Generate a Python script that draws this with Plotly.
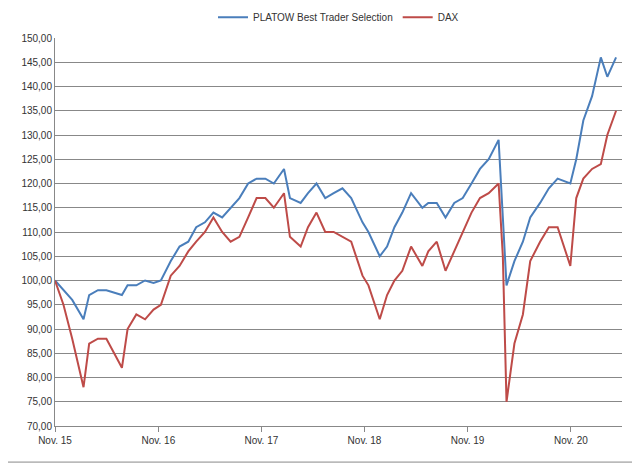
import plotly.graph_objects as go

dates = ["2015-11-01","2015-12-01","2016-01-01","2016-02-10","2016-03-01","2016-04-01","2016-05-01","2016-06-25","2016-07-15","2016-08-15","2016-09-15","2016-10-15","2016-11-10","2016-12-15","2017-01-15","2017-02-15","2017-03-15","2017-04-15","2017-05-15","2017-06-15","2017-07-15","2017-08-15","2017-09-15","2017-10-15","2017-11-15","2017-12-15","2018-01-20","2018-02-10","2018-03-20","2018-04-15","2018-05-15","2018-06-15","2018-07-15","2018-08-15","2018-09-15","2018-10-25","2018-11-15","2018-12-25","2019-01-20","2019-02-15","2019-03-15","2019-04-15","2019-05-25","2019-06-15","2019-07-15","2019-08-15","2019-09-15","2019-10-15","2019-11-15","2019-12-15","2020-01-15","2020-02-19","2020-03-05","2020-03-18","2020-04-15","2020-05-15","2020-06-10","2020-07-15","2020-08-15","2020-09-15","2020-10-30","2020-11-20","2020-12-15","2021-01-15","2021-02-15","2021-03-10","2021-04-10"]
platow = [100,98,96,92,97,98,98,97,99,99,100,99.5,100,104,107,108,111,112,114,113,115,117,120,121,121,120,123,117,116,118,120,117,118,119,117,112,110,105,107,111,114,118,115,116,116,113,116,117,120,123,125,129,113,99,104,108,113,116,119,121,120,125,133,138,146,142,146]
dax = [100,95,88,78,87,88,88,82,90,93,92,94,95,101,103,106,108,110,113,110,108,109,113,117,117,115,118,109,107,111,114,110,110,109,108,101,99,92,97,100,102,107,103,106,108,102,106,110,114,117,118,120,105,75,87,93,104,108,111,111,103,117,121,123,124,130,135]

fig = go.Figure()
fig.add_trace(go.Scatter(x=dates, y=platow, mode="lines", name="PLATOW Best Trader Selection", line=dict(color="#4A7EBB", width=2)))
fig.add_trace(go.Scatter(x=dates, y=dax, mode="lines", name="DAX", line=dict(color="#BE4B48", width=2)))
fig.update_layout(
    width=640, height=464, paper_bgcolor="white", plot_bgcolor="white",
    margin=dict(l=47, r=26, t=30, b=46, autoexpand=False),
    font=dict(family="Liberation Sans, Arial", size=10, color="#333"),
    legend=dict(orientation="h", x=0.5, xanchor="center", y=0.98, yref="container", yanchor="middle", font=dict(size=10)),
    separators=",.",
    shapes=[dict(type="rect", xref="paper", yref="paper", x0=-0.095, x1=1.028, y0=-0.093, y1=1.095,
                 line=dict(color="#888", width=1))],
)
fig.update_xaxes(range=["2015-11-01","2021-05-01"], tickvals=["2015-11-01","2016-11-01","2017-11-01","2018-11-01","2019-11-01","2020-11-01"],
                 ticktext=["Nov. 15","Nov. 16","Nov. 17","Nov. 18","Nov. 19","Nov. 20"], showgrid=False,
                 showline=True, linecolor="#888", ticks="outside", ticklen=5, tickcolor="#888")
fig.update_yaxes(range=[70,150], dtick=5, tickformat=".2f", showgrid=True, gridcolor="#888",
                 showline=True, linecolor="#888", zeroline=False)
fig.write_html("out.html")
